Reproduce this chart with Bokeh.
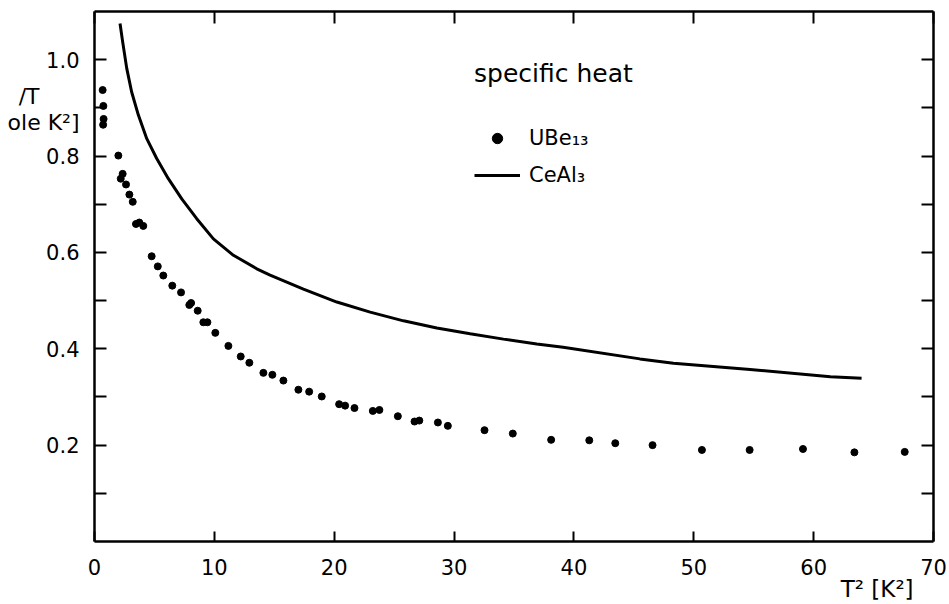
import json
from bokeh.plotting import figure
from bokeh.models import (Range1d, LinearAxis, FixedTicker, Legend,
                          LegendItem, CustomJSTickFormatter, NumeralTickFormatter)
from bokeh.embed import file_html
from bokeh.resources import INLINE

FONT = "DejaVu Sans"

# ---- data ----
ube13_t2 = [0.68, 0.74, 0.76, 0.72, 1.99, 2.35, 2.19, 2.63, 2.91, 3.19, 3.46, 3.74,
            4.07, 4.77, 5.28, 5.74, 6.49, 7.22, 7.91, 8.06, 8.61, 9.08, 9.42, 10.08,
            11.17, 12.20, 12.92, 14.09, 14.84, 15.76, 17.01, 17.91, 18.96,
            20.41, 20.91, 21.69, 23.22, 23.77, 25.31, 26.70, 27.10, 28.65,
            29.48, 32.54, 34.90, 38.10, 41.28, 43.45, 46.56, 50.68, 54.66,
            59.11, 63.40, 67.60]
ube13_ct = [0.937, 0.904, 0.877, 0.865, 0.801, 0.763, 0.753, 0.741, 0.720, 0.705,
            0.659, 0.662, 0.655, 0.592, 0.571, 0.552, 0.531, 0.517, 0.491, 0.495,
            0.479, 0.455, 0.455, 0.433, 0.406, 0.384, 0.371, 0.350, 0.346, 0.334,
            0.315, 0.311, 0.301, 0.285, 0.282, 0.277, 0.271, 0.273, 0.260, 0.249,
            0.251, 0.247, 0.240, 0.231, 0.224, 0.211, 0.210, 0.204, 0.200, 0.190,
            0.190, 0.192, 0.185, 0.186]

ceal3_t2 = [2.13, 2.35, 2.69, 3.10, 3.66, 4.36, 5.19, 6.16, 7.28, 8.53, 9.92,
            11.59, 13.54, 14.65, 17.43, 20.22, 23.0, 25.78, 28.56, 31.34, 34.12,
            36.9, 39.1, 45.5, 48.3, 54.7, 61.4, 64.0]
ceal3_ct = [1.075, 1.037, 0.982, 0.933, 0.885, 0.836, 0.795, 0.753, 0.711, 0.670,
            0.628, 0.594, 0.566, 0.553, 0.524, 0.497, 0.476, 0.458, 0.443, 0.431,
            0.420, 0.410, 0.403, 0.379, 0.370, 0.357, 0.342, 0.339]

x_ticks = [0, 10, 20, 30, 40, 50, 60, 70]
y_ticks = [0.2, 0.4, 0.6, 0.8, 1.0]
y_minor = [0.1, 0.3, 0.5, 0.7, 0.9]

legend_title = "specific heat"
series_names = ["UBe\u2081\u2083", "CeAl\u2083"]
x_label = "T\u00b2 [K\u00b2]"
# the y title is cut by the left page edge in the original; only this part shows
y_label_lines = ["/T", "ole K\u00b2]"]

# ---- figure ----
p = figure(width=949, height=604, x_range=Range1d(0, 70), y_range=Range1d(0, 1.1),
           x_axis_type=None, y_axis_type=None,
           output_backend="svg", toolbar_location=None)
p.min_border_left = 94
p.min_border_right = 16
p.min_border_top = 11
p.min_border_bottom = 63
p.outline_line_color = None
p.background_fill_color = "white"
p.border_fill_color = "white"


def style_axis(ax, tick_len, show_labels):
    ax.axis_line_width = 2.5
    ax.axis_line_color = "black"
    ax.major_tick_in = tick_len
    ax.major_tick_out = 0
    ax.minor_tick_in = tick_len
    ax.minor_tick_out = 0
    ax.major_tick_line_width = 2
    ax.minor_tick_line_width = 2
    ax.major_tick_line_color = "black"
    ax.minor_tick_line_color = "black"
    if show_labels:
        ax.major_label_text_font = FONT
        ax.major_label_text_font_size = "21px"
        ax.major_label_text_color = "black"
    else:
        ax.formatter = CustomJSTickFormatter(code="return ''")
        ax.major_label_text_font_size = "0px"
        ax.major_label_standoff = 0


xb = LinearAxis(ticker=FixedTicker(ticks=x_ticks, minor_ticks=[]))
style_axis(xb, 10, True)
xb.major_label_standoff = 17
p.add_layout(xb, "below")

xt = LinearAxis(ticker=FixedTicker(ticks=x_ticks, minor_ticks=[]))
style_axis(xt, 12, False)
p.add_layout(xt, "above")

yl = LinearAxis(ticker=FixedTicker(ticks=y_ticks, minor_ticks=y_minor),
                formatter=NumeralTickFormatter(format="0.0"))
style_axis(yl, 12, True)
yl.major_label_standoff = 15
p.add_layout(yl, "left")

yr = LinearAxis(ticker=FixedTicker(ticks=y_ticks, minor_ticks=y_minor))
style_axis(yr, 12, False)
p.add_layout(yr, "right")


# axis titles: extra label-only axes stacked outside the tick-label axes
def title_axis(side, at, text, standoff, size):
    ax = LinearAxis(ticker=FixedTicker(ticks=[at], minor_ticks=[]),
                    formatter=CustomJSTickFormatter(code="return %s;" % json.dumps(text)))
    ax.axis_line_color = None
    ax.major_tick_line_color = None
    ax.minor_tick_line_color = None
    ax.major_tick_in = 0
    ax.major_tick_out = 0
    ax.minor_tick_in = 0
    ax.minor_tick_out = 0
    ax.major_label_standoff = standoff
    ax.major_label_text_font = FONT
    ax.major_label_text_font_size = size
    ax.major_label_text_color = "black"
    p.add_layout(ax, side)


title_axis("left", 0.9235, y_label_lines[0], 4, "22px")
title_axis("left", 0.8705, y_label_lines[1], -64, "22px")
title_axis("below", 65.3, x_label, -2, "23px")

# ---- data glyphs ----
r_ube = p.scatter(ube13_t2, ube13_ct, size=7, color="black")
r_ce = p.line(ceal3_t2, ceal3_ct, line_width=3, color="black")

legend = Legend(items=[LegendItem(label=series_names[0], renderers=[r_ube]),
                       LegendItem(label=series_names[1], renderers=[r_ce])],
                location=(380, 353), title=legend_title)
legend.title_text_font = FONT
legend.title_text_font_size = "25px"
legend.title_text_font_style = "normal"
legend.title_text_color = "black"
legend.title_standoff = 37
legend.label_text_font = FONT
legend.label_text_font_size = "21px"
legend.label_text_color = "black"
legend.glyph_width = 46
legend.glyph_height = 26
legend.label_height = 26
legend.label_standoff = 9
legend.spacing = 11
legend.padding = 0
legend.margin = 0
legend.border_line_color = None
legend.background_fill_alpha = 0
p.add_layout(legend)

open("out.html", "w").write(file_html(p, INLINE))
